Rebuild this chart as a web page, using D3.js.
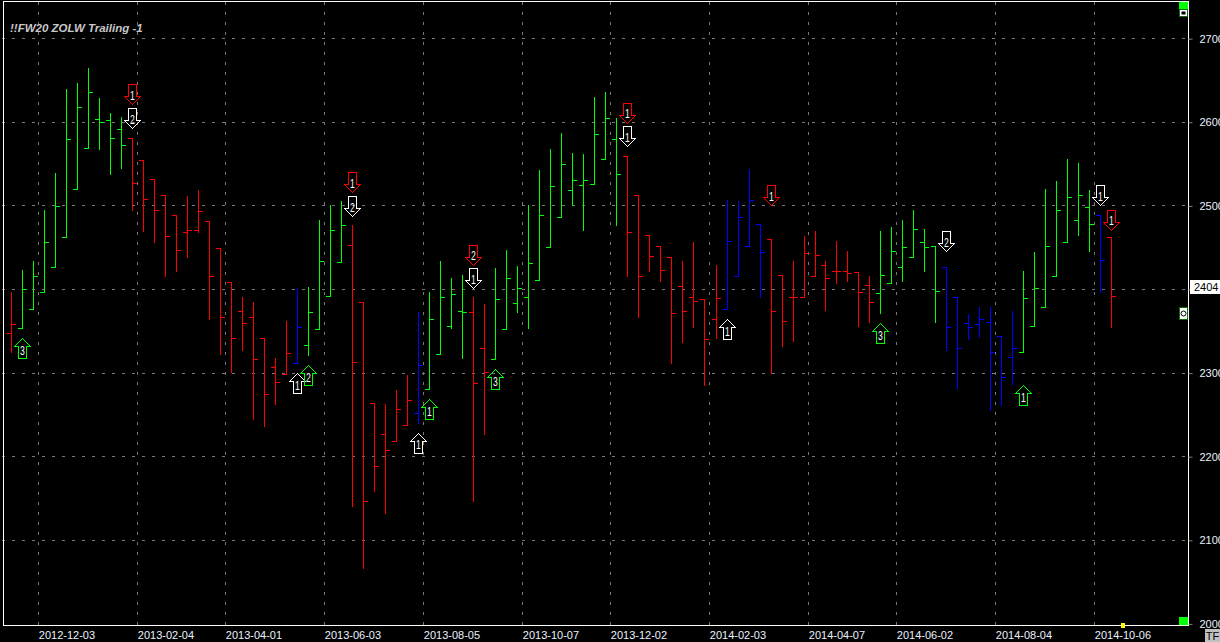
<!DOCTYPE html>
<html>
<head>
<meta charset="utf-8">
<script src="https://cdnjs.cloudflare.com/ajax/libs/d3/7.8.5/d3.min.js"></script>
<style>
html,body{margin:0;padding:0;background:#000;overflow:hidden}
svg{display:block}
text{font-family:"Liberation Sans",Arial,sans-serif}
</style>
</head>
<body>
<svg id="c" width="1220" height="642"></svg>
<script>
const title = "!!FW20 ZOLW Trailing -1";
const highs = [2396,2423,2433,2494,2539,2639,2647,2664,2628,2610,2606,2581,2554,2531,2513,2488,2511,2518,2481,2449,2408,2391,2384,2341,2318,2362,2401,2402,2482,2501,2505,2476,2384,2264,2262,2279,2297,2373,2396,2433,2413,2417,2390,2382,2425,2447,2427,2500,2542,2568,2587,2563,2562,2630,2636,2604,2559,2513,2465,2452,2438,2433,2456,2388,2429,2506,2505,2543,2478,2460,2417,2433,2463,2469,2434,2458,2445,2420,2416,2469,2474,2482,2494,2472,2452,2426,2390,2370,2379,2378,2344,2374,2422,2444,2520,2529,2555,2551,2519,2488,2462];
const lows = [2325,2353,2376,2396,2426,2462,2520,2569,2568,2537,2545,2495,2469,2456,2416,2421,2438,2468,2364,2322,2301,2327,2244,2236,2262,2298,2311,2321,2352,2392,2432,2140,2066,2158,2132,2218,2237,2240,2280,2322,2353,2318,2146,2226,2316,2352,2372,2353,2411,2450,2486,2500,2470,2526,2556,2476,2415,2366,2421,2410,2312,2337,2354,2285,2341,2376,2415,2451,2391,2300,2332,2338,2391,2416,2375,2407,2409,2356,2360,2371,2407,2409,2438,2422,2361,2327,2281,2340,2343,2255,2261,2286,2325,2356,2378,2415,2456,2464,2445,2396,2355];
const opens = [2347,2353,2376,2396,2426,2462,2520,2569,2603,2602,2591,2581,2554,2531,2513,2488,2468,2470,2481,2449,2408,2374,2366,2341,2307,2298,2311,2333,2352,2392,2432,2453,2384,2264,2226,2218,2237,2252,2280,2322,2356,2374,2373,2330,2316,2352,2383,2391,2411,2450,2486,2518,2524,2526,2556,2580,2559,2513,2465,2452,2438,2404,2390,2388,2364,2376,2415,2451,2478,2460,2417,2390,2391,2416,2429,2421,2421,2420,2405,2395,2407,2426,2438,2456,2452,2426,2390,2359,2358,2361,2344,2319,2325,2356,2378,2415,2456,2483,2498,2488,2462];
const closes = [2358,2400,2416,2456,2499,2579,2618,2636,2600,2581,2572,2527,2508,2494,2463,2447,2471,2493,2416,2367,2341,2359,2316,2274,2289,2323,2354,2372,2433,2471,2476,2313,2146,2188,2208,2256,2267,2309,2364,2391,2394,2372,2287,2301,2388,2413,2401,2431,2488,2523,2549,2530,2530,2586,2605,2537,2468,2416,2439,2423,2371,2374,2386,2340,2389,2457,2486,2506,2444,2374,2362,2391,2443,2441,2413,2422,2419,2397,2384,2417,2445,2450,2472,2450,2398,2355,2330,2354,2364,2325,2295,2330,2389,2401,2451,2495,2510,2513,2478,2435,2392];
// signal state of each bar: g = long, r = short, b = neutral
const states = "rggggggggggrrrrrrrrrrrrrrrbggggrrrrrrbggggrrggggggggggggrrrrrrrrrbbbbrrrrrrrrrrggggggbbbbbbbgggggggbr";
const stateColors = {g:"#00ff00", r:"#ff0000", b:"#0000ff"};
const dateLabels = ["2012-12-03","2013-02-04","2013-04-01","2013-06-03","2013-08-05","2013-10-07","2013-12-02","2014-02-03","2014-04-07","2014-06-02","2014-08-04","2014-10-06"];
const dateBars = [3,12,20,29,38,47,55,64,73,81,90,99];
const priceTicks = [2000,2100,2200,2300,2400,2500,2600,2700];
const lastPrice = 2404;
// signals: bar index, tip price, direction, colour, number
const signalBars  = [11,11,31,31,42,42,56,56,69,85,99,100,1,26,27,37,38,44,65,79,92];
const signalTips  = [2621,2592,2515.5,2487,2429,2401,2599,2570.5,2500,2445,2500,2471,2341,2299,2309,2228,2268,2304,2364,2359,2285];
const signalDirs  = ["d","d","d","d","d","d","d","d","d","d","d","d","u","u","u","u","u","u","u","u","u"];
const signalCols  = ["#ff0000","#ffffff","#ff0000","#ffffff","#ff0000","#ffffff","#ff0000","#ffffff","#ff0000","#ffffff","#ffffff","#ff0000","#00ff00","#ffffff","#00ff00","#ffffff","#00ff00","#00ff00","#ffffff","#00ff00","#00ff00"];
const signalNums  = ["1","2","1","2","2","1","1","1","1","2","1","1","3","1","2","1","1","3","1","3","1"];

const svg = d3.select("#c");
svg.append("rect").attr("width",1220).attr("height",642).attr("fill","#000");

const n = highs.length;
const y = d3.scaleLinear().domain([2000,2700]).range([623.9,38.7]);
const x = d3.scaleLinear().domain([0,63,64,73,74,100]).range([11.3,704.3,716.3,815.3,825.3,1111.3]);
const gx = d3.scaleLinear().domain([0,100]).range([5.3,1105.3]);
const cy = v => Math.floor(y(v))+0.5;
const cx = i => Math.floor(x(i))+0.5;
const L=3, R=1188, T=1, B=625;

// grid
const grid = svg.append("g").attr("stroke","#787878").attr("stroke-dasharray","3 7").attr("shape-rendering","crispEdges");
grid.selectAll("line.h").data(priceTicks.filter(p=>p>2000)).join("line").attr("class","h")
  .attr("x1",2).attr("x2",R).attr("y1",cy).attr("y2",cy);
grid.selectAll("line.v").data(dateBars).join("line").attr("class","v")
  .attr("y1",2).attr("y2",B).attr("x1",d=>Math.floor(gx(d))+0.5).attr("x2",d=>Math.floor(gx(d))+0.5);

// price bars
const bars = svg.append("g").attr("shape-rendering","crispEdges").attr("stroke-width",1);
d3.range(n).forEach(i=>{
  const c = stateColors[states[i]];
  const g = bars.append("g").attr("stroke",c);
  g.append("line").attr("x1",cx(i)).attr("x2",cx(i)).attr("y1",Math.floor(y(highs[i]))).attr("y2",Math.floor(y(lows[i]))+1);
  g.append("line").attr("x1",cx(i)-4.5).attr("x2",cx(i)).attr("y1",cy(opens[i])).attr("y2",cy(opens[i]));
  g.append("line").attr("x1",cx(i)).attr("x2",cx(i)+4.5).attr("y1",cy(closes[i])).attr("y2",cy(closes[i]));
});

// frame
const frame = svg.append("g").attr("stroke","#fff").attr("shape-rendering","crispEdges");
frame.append("line").attr("x1",L+.5).attr("x2",L+.5).attr("y1",T).attr("y2",B+1);
frame.append("line").attr("x1",R+.5).attr("x2",R+.5).attr("y1",T).attr("y2",B+1);
frame.append("line").attr("x1",L).attr("x2",R+1).attr("y1",T+.5).attr("y2",T+.5);
frame.append("line").attr("x1",L).attr("x2",R+1).attr("y1",B+.5).attr("y2",B+.5);

// signal arrows
const arrowPath = (px,tip,dir)=>{
  const s = dir==="d"?-1:1, a=Math.floor(tip)+.5, X=Math.floor(px)+.5;
  return `M${X},${a}L${X+8},${a+8*s}H${X+4}V${a+20*s}H${X-4}V${a+8*s}H${X-8}Z`;
};
const arrows = svg.append("g");
signalBars.forEach((b,i)=>{
  const tip = y(signalTips[i]), px = cx(b);
  arrows.append("path").attr("d",arrowPath(px,tip,signalDirs[i])).attr("fill","none")
    .attr("stroke",signalCols[i]).attr("stroke-width",1).attr("shape-rendering","crispEdges");
  arrows.append("text")
    .attr("transform",`translate(${px},${signalDirs[i]==="d"?tip-5:tip+16}) scale(0.72,1)`)
    .attr("text-anchor","middle").attr("fill","#fff")
    .style("font-size","12px")
    .text(signalNums[i]);
});

// axes
const yAxis = d3.axisRight(y).tickValues(priceTicks).tickSize(4).tickPadding(7)
  .tickFormat(d3.format("d"));
const ya = svg.append("g").attr("transform",`translate(${R+.5},0)`).call(yAxis);
ya.select(".domain").remove();
ya.selectAll("line").attr("stroke","#808080");
ya.selectAll("text").attr("fill","#eaf2ff").style("font-size","11px").style("font-family",'"Liberation Sans",sans-serif');
// the price flag covers the 2400 label in the picture
ya.selectAll(".tick").filter(d=>d===2400).select("text").remove();

const xb = d3.scaleOrdinal().domain(dateBars).range(dateBars.map(gx));
const xAxis = d3.axisBottom(xb).tickValues(dateBars).tickSize(0).tickPadding(0)
  .tickFormat((d,i)=>dateLabels[i]);
const xa = svg.append("g").attr("transform",`translate(0,${B+1})`).call(xAxis);
xa.select(".domain").remove();
xa.selectAll("text").attr("text-anchor","start").attr("y",12.5).attr("dy",0).attr("x",0)
  .attr("fill","#eaf2ff").style("font-size","11px").style("font-family",'"Liberation Sans",sans-serif');

// title
svg.append("text").attr("x",10).attr("y",32).attr("fill","#c8c8c8")
  .style("font-size","11.5px").style("font-weight","bold").style("font-style","italic").text(title);

// right-hand furniture
svg.append("rect").attr("x",1179).attr("y",2).attr("width",9).attr("height",7).attr("fill","#00ff00");
svg.append("rect").attr("x",1179.5).attr("y",9.5).attr("width",8).attr("height",7).attr("fill","#fff").attr("stroke","#0a6a0a");
svg.append("rect").attr("x",1181.5).attr("y",11.5).attr("width",4).attr("height",3).attr("fill","#000");
svg.append("rect").attr("x",1179).attr("y",617).attr("width",9).attr("height",8).attr("fill","#00ff00");
svg.append("rect").attr("x",1121).attr("y",623).attr("width",4).attr("height",5).attr("fill","#ffff00");

svg.append("rect").attr("x",1190).attr("y",280).attr("width",30).attr("height",14).attr("fill","#fff");
svg.append("text").attr("x",1194).attr("y",291).attr("fill","#000").style("font-size","11px").text(lastPrice);

svg.append("rect").attr("x",1179.5).attr("y",307.5).attr("width",8).attr("height",12).attr("fill","#fff").attr("stroke","#0a6a0a").attr("shape-rendering","crispEdges");
svg.append("circle").attr("cx",1183.5).attr("cy",313.5).attr("r",2.5).attr("fill","none").attr("stroke","#000");

svg.append("rect").attr("x",1205).attr("y",629).attr("width",15).attr("height",13).attr("fill","#c0c0c0");
svg.append("text").attr("x",1212.5).attr("y",640).attr("text-anchor","middle").attr("fill","#000").style("font-size","11px").text("TF");
</script>
</body>
</html>
